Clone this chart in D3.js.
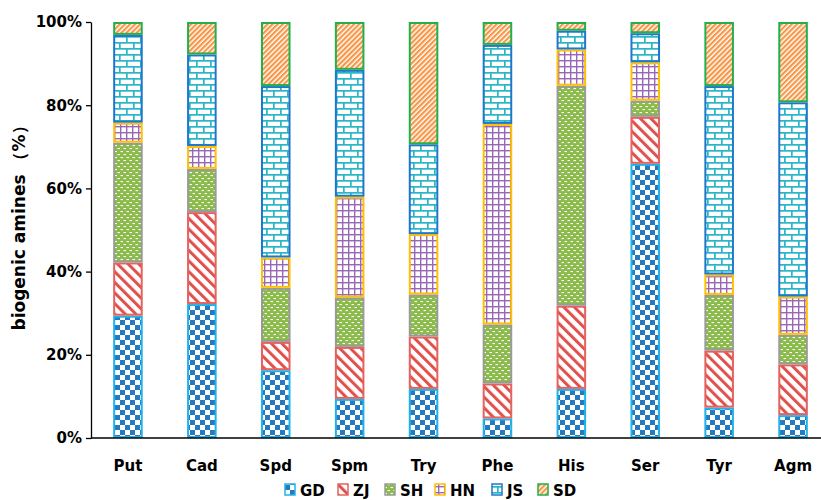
<!DOCTYPE html>
<html><head><meta charset="utf-8">
<script src="https://cdn.jsdelivr.net/npm/d3@7"></script>
<style>
html,body{margin:0;padding:0;background:#fff;}
text{font-family:"DejaVu Sans",sans-serif;font-weight:bold;fill:#000;}
</style></head>
<body><svg id="c" width="821" height="500"></svg>
<script>
const categories = ["Put","Cad","Spd","Spm","Try","Phe","His","Ser","Tyr","Agm"];
const seriesNames = ["GD","ZJ","SH","HN","JS","SD"];
const GD = [29.4, 32.2, 16.3, 9.4, 11.8, 4.7, 11.8, 65.9, 7.3, 5.5];
const ZJ = [12.8, 22.1, 6.8, 12.5, 12.6, 8.4, 20.0, 11.3, 13.7, 12.2];
const SH = [28.8, 10.4, 13.0, 11.9, 10.1, 14.2, 52.9, 3.9, 13.4, 7.1];
const HN = [4.8, 5.5, 7.3, 24.2, 14.5, 48.2, 8.7, 9.2, 4.9, 9.2];
const JS = [21.1, 22.0, 41.2, 30.5, 21.6, 19.0, 4.5, 7.0, 45.3, 46.7];
const SD = [3.1, 7.8, 15.4, 11.5, 29.4, 5.5, 2.1, 2.7, 15.4, 19.3];
const yTicks = [0, 0.2, 0.4, 0.6, 0.8, 1.0];
const yTitle = "biogenic amines （%）";

const seriesValues = {GD, ZJ, SH, HN, JS, SD};
const borders = {GD:"#22b2ea", ZJ:"#e5635f", SH:"#9a9a9a", HN:"#ffc000", JS:"#1f77cc", SD:"#22b04c"};

const svg = d3.select("#c");
const defs = svg.append("defs");

// GD: checkerboard
let p = defs.append("pattern").attr("id","p-GD").attr("patternUnits","userSpaceOnUse").attr("width",10).attr("height",10);
p.append("rect").attr("width",10).attr("height",10).attr("fill","#fff");
p.append("rect").attr("x",0).attr("y",0).attr("width",5).attr("height",5).attr("fill","#2479c0");
p.append("rect").attr("x",5).attr("y",5).attr("width",5).attr("height",5).attr("fill","#2479c0");
// ZJ: wide "\" stripes
p = defs.append("pattern").attr("id","p-ZJ").attr("patternUnits","userSpaceOnUse").attr("width",7.5).attr("height",7.5).attr("patternTransform","rotate(-45)");
p.append("rect").attr("width",7.5).attr("height",7.5).attr("fill","#fff");
p.append("rect").attr("x",0).attr("y",0).attr("width",3).attr("height",7.5).attr("fill","#e0504c");
// SH: green with white dashes
p = defs.append("pattern").attr("id","p-SH").attr("patternUnits","userSpaceOnUse").attr("width",6).attr("height",6);
p.append("rect").attr("width",6).attr("height",6).attr("fill","#8bbb4b");
p.append("rect").attr("x",0.5).attr("y",1).attr("width",2.5).attr("height",1.1).attr("fill","#fff");
p.append("rect").attr("x",3.5).attr("y",4).attr("width",2.5).attr("height",1.1).attr("fill","#fff");
// HN: purple grid
p = defs.append("pattern").attr("id","p-HN").attr("patternUnits","userSpaceOnUse").attr("width",6).attr("height",6);
p.append("rect").attr("width",6).attr("height",6).attr("fill","#fff");
p.append("rect").attr("x",0).attr("y",0).attr("width",1.4).attr("height",6).attr("fill","#9966b8");
p.append("rect").attr("x",0).attr("y",0).attr("width",6).attr("height",1.4).attr("fill","#9966b8");
// JS: teal bricks
p = defs.append("pattern").attr("id","p-JS").attr("patternUnits","userSpaceOnUse").attr("width",14).attr("height",12);
p.append("rect").attr("width",14).attr("height",12).attr("fill","#fff");
p.append("rect").attr("x",0).attr("y",0).attr("width",14).attr("height",1.7).attr("fill","#2bb6c8");
p.append("rect").attr("x",0).attr("y",6).attr("width",14).attr("height",1.7).attr("fill","#2bb6c8");
p.append("rect").attr("x",0).attr("y",0).attr("width",1.7).attr("height",6).attr("fill","#2bb6c8");
p.append("rect").attr("x",7).attr("y",6).attr("width",1.7).attr("height",6).attr("fill","#2bb6c8");
// SD: fine "/" stripes
p = defs.append("pattern").attr("id","p-SD").attr("patternUnits","userSpaceOnUse").attr("width",3.6).attr("height",3.6).attr("patternTransform","rotate(45)");
p.append("rect").attr("width",3.6).attr("height",3.6).attr("fill","#fff");
p.append("rect").attr("x",0).attr("y",0).attr("width",2.2).attr("height",3.6).attr("fill","#f79646");

const x = d3.scaleBand().domain(categories).range([91, 830]).paddingInner(0.6).paddingOuter(0.3);
const y = d3.scaleLinear().domain([0, 1]).range([438, 22]);

const rows = categories.map((c, i) => {
  const r = {cat: c};
  seriesNames.forEach(s => r[s] = seriesValues[s][i] / 100);
  return r;
});
const stacked = d3.stack().keys(seriesNames)(rows);

const g = svg.append("g");
stacked.forEach(layer => {
  const key = layer.key;
  g.selectAll(null).data(layer).enter().append("rect")
    .attr("x", d => x(d.data.cat) + 1)
    .attr("y", d => y(d[1]) + 1)
    .attr("width", x.bandwidth() - 2)
    .attr("height", d => Math.max(0, y(d[0]) - y(d[1]) - 2))
    .attr("fill", "url(#p-" + key + ")")
    .attr("stroke", borders[key])
    .attr("stroke-width", 2);
});

// Y axis
const yAxis = d3.axisLeft(y).tickValues(yTicks).tickFormat(d3.format(".0%")).tickSize(5).tickSizeOuter(0);
const ya = svg.append("g").attr("transform","translate(91,0)").call(yAxis);
ya.select(".domain").attr("stroke","#000").attr("stroke-width",1.3);
ya.selectAll(".tick line").attr("stroke","#000").attr("stroke-width",1.3);
ya.selectAll(".tick text").attr("font-size",15).attr("font-family","DejaVu Sans").attr("font-weight","bold").attr("fill","#000").attr("x",-9);

// X axis
const xAxis = d3.axisBottom(x).tickSize(0).tickSizeOuter(0);
const xa = svg.append("g").attr("transform","translate(0,438)").call(xAxis);
xa.select(".domain").remove();
xa.selectAll(".tick text").attr("font-size",15).attr("font-family","DejaVu Sans").attr("font-weight","bold").attr("fill","#000").attr("dy",0).attr("y",33);
svg.append("line").attr("x1",91).attr("x2",821).attr("y1",438).attr("y2",438).attr("stroke","#000").attr("stroke-width",1.6);

// Y title
svg.append("text").attr("transform","translate(25,224) rotate(-90)").attr("text-anchor","middle")
  .attr("font-size",17).text(yTitle);

// Legend
const legendX = [285, 338, 385, 435, 492, 538];
const lg = svg.append("g");
seriesNames.forEach((s, i) => {
  lg.append("rect").attr("x", legendX[i]).attr("y", 484).attr("width", 10).attr("height", 11)
    .attr("fill","url(#p-" + s + ")").attr("stroke", borders[s]).attr("stroke-width",1.5);
  lg.append("text").attr("x", legendX[i] + 15).attr("y", 496).attr("font-size",15).text(s);
});
</script></body></html>
